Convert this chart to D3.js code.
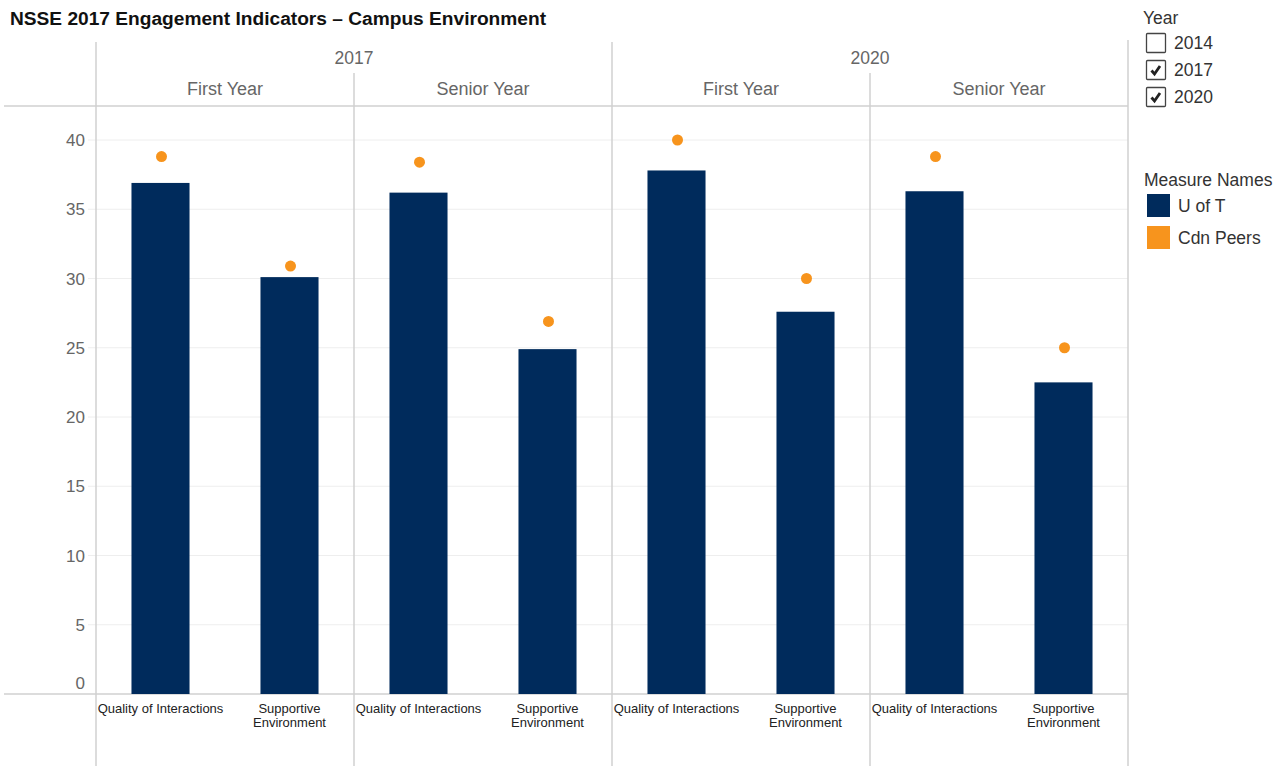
<!DOCTYPE html>
<html><head><meta charset="utf-8">
<script src="https://cdn.jsdelivr.net/npm/d3@7"></script>
<style>body{margin:0;background:#fff;font-family:Arial,"Liberation Sans",sans-serif}</style>
</head><body><svg id="c" width="1279" height="766"></svg>
<script>
const years = ["2017", "2020"];
const levels = ["First Year", "Senior Year"];
const indicators = ["Quality of Interactions", "Supportive Environment"];
// U of T values, order: year -> level -> indicator
const uoftValues = [36.9, 30.1, 36.2, 24.9, 37.8, 27.6, 36.3, 22.5];
const peerValues = [38.8, 30.9, 38.4, 26.9, 40.0, 30.0, 38.8, 25.0];
const yTicks = [0, 5, 10, 15, 20, 25, 30, 35, 40];
const legendYears = ["2014", "2017", "2020"];
const legendChecked = [false, true, true];
const measures = ["U of T", "Cdn Peers"];
const colors = ["#002B5C", "#F7941D"];

const svg = d3.select("#c");
const L = 96, R = 1128, T = 106, B = 694;
const panels = [];
years.forEach(y => levels.forEach(l => panels.push({year: y, level: l})));
const data = [];
panels.forEach((p, pi) => indicators.forEach((ind, ii) => {
  const k = pi * 2 + ii;
  data.push({panel: pi, key: pi + "|" + ind, ind, u: uoftValues[k], c: peerValues[k]});
}));

const xPanel = d3.scaleBand().domain(d3.range(panels.length)).range([L, R]);
const xInd = d3.scaleBand().domain(indicators).range([0, xPanel.bandwidth()]).paddingInner(0.55).paddingOuter(0.275);
const y = d3.scaleLinear().domain([0, 40]).range([B, 140]);

// gridlines
svg.append("g").selectAll("line").data(yTicks.filter(t => t > 0)).join("line")
  .attr("x1", 88).attr("x2", R).attr("y1", d => y(d)).attr("y2", d => y(d))
  .attr("stroke", "#eeeeee").attr("stroke-width", 1);

// y axis labels
svg.append("g").selectAll("text").data(yTicks).join("text")
  .attr("x", 85).attr("y", d => d === 0 ? y(d) - 5 : y(d) + 6).attr("text-anchor", "end")
  .attr("font-size", 17).attr("fill", "#666").text(d => d);

// structure lines
const lc = "#d0d0d0";
const line = (x1, y1, x2, y2) => svg.append("line").attr("x1", x1).attr("y1", y1).attr("x2", x2).attr("y2", y2).attr("stroke", lc).attr("stroke-width", 1.5);
line(4, T, R, T);
line(4, B, R, B);
line(L, 42, L, 766);
line(R, 40, R, 766);
years.forEach((yr, i) => { if (i > 0) line(xPanel(i * 2), 42, xPanel(i * 2), 766); });
panels.forEach((p, i) => { if (i % 2 === 1) line(xPanel(i), 73, xPanel(i), 766); });

// headers
years.forEach((yr, i) => {
  const x0 = xPanel(i * 2), x1 = xPanel(i * 2 + 1) + xPanel.bandwidth();
  svg.append("text").attr("x", (x0 + x1) / 2).attr("y", 63.5).attr("text-anchor", "middle")
    .attr("font-size", 17.5).attr("fill", "#666").text(yr);
});
panels.forEach((p, i) => {
  svg.append("text").attr("x", xPanel(i) + xPanel.bandwidth() / 2).attr("y", 95).attr("text-anchor", "middle")
    .attr("font-size", 18).attr("fill", "#666").text(p.level);
});

// bars
svg.append("g").selectAll("rect").data(data).join("rect")
  .attr("x", d => xPanel(d.panel) + xInd(d.ind)).attr("width", xInd.bandwidth())
  .attr("y", d => y(d.u)).attr("height", d => y(0) - y(d.u)).attr("fill", colors[0]);
// dots
svg.append("g").selectAll("circle").data(data).join("circle")
  .attr("cx", d => xPanel(d.panel) + xInd(d.ind) + xInd.bandwidth() / 2 + 1)
  .attr("cy", d => y(d.c)).attr("r", 5.5).attr("fill", colors[1]);

// x labels
data.forEach(d => {
  const cx = xPanel(d.panel) + xInd(d.ind) + xInd.bandwidth() / 2;
  const t = svg.append("text").attr("x", cx).attr("text-anchor", "middle").attr("font-size", 13).attr("fill", "#222");
  if (d.ind === "Quality of Interactions") {
    t.attr("y", 713).text(d.ind);
  } else {
    const w = d.ind.split(" ");
    t.append("tspan").attr("x", cx).attr("y", 713).text(w[0]);
    t.append("tspan").attr("x", cx).attr("y", 727).text(w[1]);
  }
});

// title
svg.append("text").attr("x", 10).attr("y", 24.5).attr("font-size", 18).attr("font-weight", "bold")
  .attr("textLength", 536).attr("lengthAdjust", "spacingAndGlyphs")
  .attr("fill", "#111").text("NSSE 2017 Engagement Indicators – Campus Environment");

// legend: year filter
svg.append("text").attr("x", 1143).attr("y", 24).attr("font-size", 17.5).attr("fill", "#333").text("Year");
legendYears.forEach((yr, i) => {
  const yy = 33 + i * 27;
  svg.append("rect").attr("x", 1146.5).attr("y", yy + 0.5).attr("width", 19).attr("height", 19)
    .attr("fill", "#fff").attr("stroke", "#444").attr("stroke-width", 1.3).attr("rx", 1);
  if (legendChecked[i]) {
    svg.append("path").attr("d", `M${1151.5},${yy + 10.5} L${1154.5},${yy + 14} L${1160},${yy + 6}`)
      .attr("fill", "none").attr("stroke", "#222").attr("stroke-width", 2.8);
  }
  svg.append("text").attr("x", 1174).attr("y", yy + 16).attr("font-size", 17.5).attr("fill", "#333").text(yr);
});
svg.append("text").attr("x", 1144).attr("y", 186).attr("font-size", 17.5).attr("fill", "#333").text("Measure Names");
measures.forEach((m, i) => {
  const yy = 194 + i * 32;
  svg.append("rect").attr("x", 1147).attr("y", yy).attr("width", 23).attr("height", 23).attr("fill", colors[i]);
  svg.append("text").attr("x", 1178).attr("y", yy + 18).attr("font-size", 17.5).attr("fill", "#333").text(m);
});
</script></body></html>
